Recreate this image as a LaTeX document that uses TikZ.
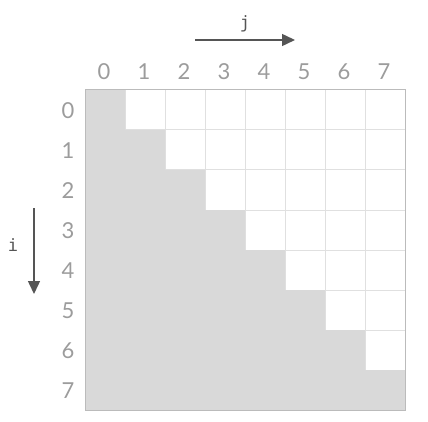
\documentclass[tikz,border=0pt]{standalone}
\usepackage{fontspec}
\newfontfamily\numfont{Lato}
\newfontfamily\monofont{DejaVu Sans Mono}
\usetikzlibrary{arrows.meta}
\definecolor{cellgray}{HTML}{D9D9D9}
\definecolor{linegray}{HTML}{E0E0E0}
\definecolor{bordergray}{HTML}{BBBBBB}
\definecolor{numgray}{HTML}{9C9C9C}
\definecolor{arrowgray}{HTML}{555555}
\tikzset{
  numlabel/.style={font=\numfont\fontsize{22}{22}\selectfont, text=numgray, inner sep=0pt},
  axislabel/.style={font=\monofont\fontsize{17}{17}\selectfont, text=arrowgray, inner sep=0pt},
  axisarrow/.style={draw=arrowgray, line width=1.5pt, -{Triangle[length=13pt,width=12pt]}},
}
\begin{document}
\begin{tikzpicture}[x=1pt,y=-1pt]
\useasboundingbox (0,0) rectangle (428,422);
% grid lines
\foreach \k in {1,...,7}{
  \draw[linegray, line width=1pt] (85+40*\k,90) -- (85+40*\k,410);
  \draw[linegray, line width=1pt] (85,90+40*\k) -- (405,90+40*\k);
}
% gray lower triangle
\fill[cellgray] (85,90) -- (125,90) -- (125,130) -- (165,130) -- (165,170) -- (205,170) -- (205,210) -- (245,210) -- (245,250) -- (285,250) -- (285,290) -- (325,290) -- (325,330) -- (365,330) -- (365,370) -- (405,370) -- (405,410) -- (85,410) -- cycle;
\draw[bordergray, line width=1pt] (85,90) rectangle (405,410);
% labels
\foreach \k in {0,...,7}{
  \node[numlabel] (c\k) at (104+40*\k,72) {\k};
  \node[numlabel] (r\k) at (68,111+40*\k) {\k};
}
\node[axislabel] (jl) at (245,24) {j};
\coordinate (js) at (195,40);
\coordinate (je) at (295,40);
\draw[axisarrow] (js) -- (je);
\node[axislabel] (il) at (13,245) {i};
\coordinate (is) at (34,208);
\coordinate (ie) at (34,294);
\draw[axisarrow] (is) -- (ie);
\end{tikzpicture}
\end{document}
